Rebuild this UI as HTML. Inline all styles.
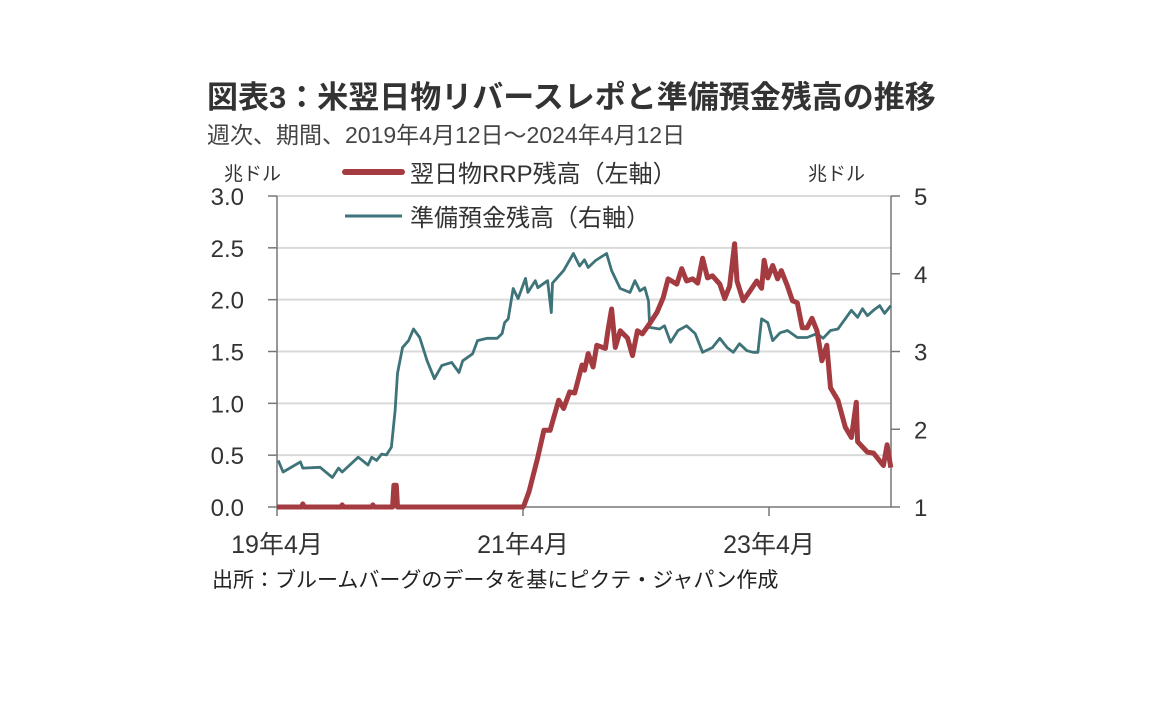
<!DOCTYPE html>
<html><head><meta charset="utf-8">
<style>
body{margin:0;background:#fff;width:1152px;height:720px;overflow:hidden;font-family:"Liberation Sans","Noto Sans CJK JP",sans-serif;}
svg text{font-family:"Liberation Sans","Noto Sans CJK JP",sans-serif;}
</style></head>
<body>
<svg id="c" width="1152" height="720">
<text x="207" y="108" font-size="31" font-weight="bold" fill="#333">図表3：米翌日物リバースレポと準備預金残高の推移</text>
<text x="207" y="143" font-size="23" fill="#444">週次、期間、2019年4月12日～2024年4月12日</text>
<text x="224" y="180" font-size="19" fill="#333">兆ドル</text>
<text x="808" y="180" font-size="19" fill="#333">兆ドル</text>
<g id="grid"></g>
<g id="axes"></g>
<g id="series"></g>
<g>
<line x1="345" y1="172" x2="402" y2="172" stroke="#a33b40" stroke-width="6" stroke-linecap="round"/>
<text x="410" y="182" font-size="24" fill="#333">翌日物RRP残高（左軸）</text>
<line x1="345" y1="216" x2="402" y2="216" stroke="#3e7379" stroke-width="3"/>
<text x="410" y="226" font-size="24" fill="#333">準備預金残高（右軸）</text>
</g>
<text x="212" y="587" font-size="21" fill="#222">出所：ブルームバーグのデータを基にピクテ・ジャパン作成</text>
</svg>
<script>
const leftTicks=["0.0","0.5","1.0","1.5","2.0","2.5","3.0"];
const leftTickValues=[0,0.5,1,1.5,2,2.5,3];
const rightTicks=["1","2","3","4","5"];
const rightTickValues=[1,2,3,4,5];
const xTickLabels=["19年4月","21年4月","23年4月"];
const xTickValues=[0,2,4];
// years since 2019-04
const resT=[0.01,0.05,0.19,0.21,0.35,0.45,0.50,0.53,0.66,0.74,0.77,0.81,0.85,0.89,0.93,0.96,0.98,1.02,1.07,1.11,1.16,1.22,1.28,1.34,1.42,1.48,1.51,1.59,1.63,1.71,1.79,1.83,1.85,1.88,1.92,1.96,2.02,2.04,2.10,2.12,2.20,2.23,2.24,2.33,2.41,2.46,2.50,2.53,2.59,2.68,2.72,2.79,2.87,2.91,2.95,2.99,3.02,3.03,3.11,3.15,3.20,3.26,3.33,3.40,3.46,3.54,3.60,3.66,3.71,3.76,3.82,3.87,3.91,3.94,3.99,4.03,4.09,4.15,4.23,4.31,4.39,4.44,4.50,4.56,4.62,4.67,4.72,4.76,4.80,4.85,4.90,4.94,4.99];
const resV=[1.60,1.45,1.58,1.50,1.51,1.38,1.50,1.45,1.64,1.54,1.64,1.60,1.68,1.67,1.77,2.24,2.72,3.05,3.14,3.29,3.18,2.88,2.65,2.82,2.86,2.73,2.88,2.97,3.14,3.17,3.17,3.23,3.37,3.42,3.81,3.68,3.94,3.76,3.91,3.82,3.91,3.50,3.88,4.04,4.26,4.10,4.18,4.08,4.17,4.26,4.04,3.81,3.76,3.91,3.78,3.82,3.65,3.31,3.29,3.33,3.12,3.27,3.33,3.23,2.99,3.05,3.17,3.05,2.99,3.10,3.01,2.99,2.99,3.42,3.37,3.14,3.24,3.27,3.18,3.18,3.23,3.17,3.27,3.29,3.42,3.53,3.44,3.55,3.46,3.53,3.59,3.49,3.59];
const rrpT=[0,0.20,0.21,0.22,0.52,0.53,0.54,0.77,0.78,0.79,0.94,0.95,0.97,0.98,2.00,2.01,2.05,2.12,2.17,2.22,2.29,2.33,2.38,2.42,2.48,2.50,2.53,2.57,2.60,2.67,2.69,2.72,2.75,2.79,2.85,2.89,2.93,2.97,3.03,3.09,3.14,3.18,3.25,3.29,3.33,3.38,3.42,3.46,3.50,3.54,3.60,3.64,3.68,3.72,3.74,3.79,3.85,3.90,3.94,3.96,3.99,4.03,4.07,4.10,4.15,4.19,4.23,4.27,4.31,4.35,4.39,4.43,4.47,4.50,4.56,4.62,4.67,4.71,4.72,4.80,4.85,4.93,4.96,4.99];
const rrpV=[0,0,0.03,0,0,0.02,0,0,0.02,0,0,0.21,0.21,0,0,0.02,0.15,0.48,0.74,0.74,1.03,0.95,1.11,1.10,1.37,1.32,1.48,1.35,1.56,1.53,1.70,1.91,1.54,1.70,1.63,1.46,1.70,1.67,1.77,1.88,2.02,2.20,2.15,2.30,2.18,2.20,2.16,2.40,2.21,2.23,2.15,2.01,2.13,2.54,2.18,1.99,2.09,2.18,2.11,2.38,2.21,2.33,2.20,2.28,2.13,1.99,1.97,1.73,1.73,1.82,1.70,1.41,1.56,1.15,1.03,0.77,0.67,1.01,0.63,0.53,0.52,0.40,0.60,0.38];

const X0=277,X1=891,Y0=507,Y1=196;
const xs=t=>X0+t*123;
const yl=v=>Y0-(v/3)*(Y0-Y1);
const yr=v=>Y0-((v-1)/4)*(Y0-Y1);
const NS="http://www.w3.org/2000/svg";
function mk(tag,attrs,parent){const e=document.createElementNS(NS,tag);for(const k in attrs)e.setAttribute(k,attrs[k]);document.getElementById(parent).appendChild(e);return e;}
leftTickValues.forEach((v,i)=>{
  const y=yl(v);
  if(v>0){const g=mk('line',{x1:X0,x2:X1,y1:y,y2:y,stroke:'#d9d9d9','stroke-width':2},'grid');
  
  }
  const tk=mk('line',{x1:X0-9,x2:X0,y1:y,y2:y,stroke:'#777','stroke-width':1.5},'axes');
  
  
  const t=mk('text',{x:244,y:y+9,'text-anchor':'end','font-size':24,fill:'#333'},'axes');t.textContent=leftTicks[i];
  
  
});
rightTickValues.forEach((v,i)=>{
  const y=yr(v);
  const tk=mk('line',{x1:X1,x2:X1+9,y1:y,y2:y,stroke:'#777','stroke-width':1.5},'axes');
  
  
  const t=mk('text',{x:914,y:y+9,'font-size':24,fill:'#333'},'axes');t.textContent=rightTicks[i];
  
  
});
xTickValues.forEach((v,i)=>{
  const x=xs(v);
  const tk=mk('line',{x1:x,x2:x,y1:Y0,y2:Y0+9,stroke:'#777','stroke-width':1.5},'axes');
  
  
  const t=mk('text',{x:x,y:553,'text-anchor':'middle','font-size':25,fill:'#333'},'axes');t.textContent=xTickLabels[i];
  
  
});
[[X0,Y1,X0,Y0],[X0,Y0,X1,Y0],[X1,Y1,X1,Y0]].forEach(a=>{
  const l=mk('line',{x1:a[0],y1:a[1],x2:a[2],y2:a[3],stroke:'#777','stroke-width':1.5},'axes');
  
  
});
const pr=resT.map((t,i)=>xs(t).toFixed(1)+','+yr(resV[i]).toFixed(1)).join(' ');
const p1=mk('polyline',{points:pr,fill:'none',stroke:'#3e7379','stroke-width':2.8,'stroke-linejoin':'round'},'series');


const pp=rrpT.map((t,i)=>xs(t).toFixed(1)+','+yl(rrpV[i]).toFixed(1)).join(' ');
const p2=mk('polyline',{points:pp,fill:'none',stroke:'#a33b40','stroke-width':5,'stroke-linejoin':'round'},'series');


</script>
</body></html>
